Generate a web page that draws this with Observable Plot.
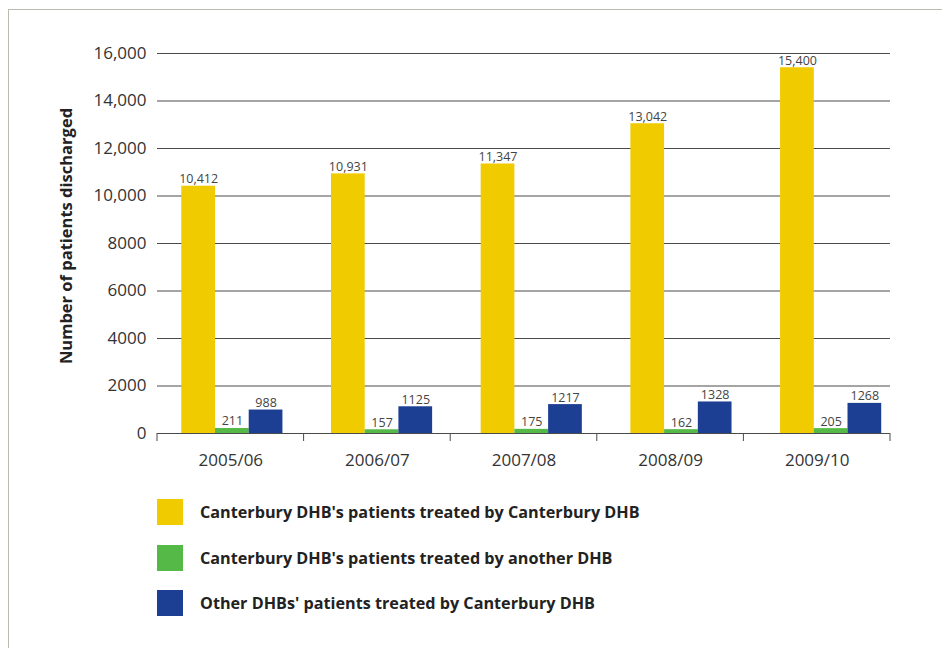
<!DOCTYPE html>
<html><head><meta charset="utf-8">
<script src="https://cdn.jsdelivr.net/npm/d3@7"></script>
<script src="https://cdn.jsdelivr.net/npm/@observablehq/plot@0.6"></script>
<style>
body{margin:0;background:#fff;font-family:"Open Sans",sans-serif;}
#wrap{position:relative;width:942px;height:648px;overflow:hidden;}
#frame{position:absolute;left:8px;top:9px;width:960px;height:660px;border-left:1.5px solid #bdbab1;border-top:1.5px solid #bdbab1;}
.layer{position:absolute;left:0;top:0;}
#ylabel{position:absolute;left:65px;top:236px;transform:translate(-50%,-50%) rotate(-90deg);font-weight:bold;font-size:16.5px;white-space:nowrap;color:#222}
#legend{position:absolute;left:157px;top:499px;}
.item{display:flex;align-items:center;height:26px;margin-bottom:19.5px}
.sw{width:26px;height:26px;margin-right:17px}
.lab{font-weight:bold;font-size:16.2px;color:#222}
</style></head>
<body>
<div id="wrap">
  <div id="frame"></div>
  <div id="axes" class="layer"></div>
  <div id="bars" class="layer"></div>
  <div id="ylabel">Number of patients discharged</div>
  <div id="legend"></div>
</div>
<script>
const years = ["2005/06","2006/07","2007/08","2008/09","2009/10"];
const seriesNames = [
  "Canterbury DHB's patients treated by Canterbury DHB",
  "Canterbury DHB's patients treated by another DHB",
  "Other DHBs' patients treated by Canterbury DHB"
];
const canterburyByCanterbury = [10412, 10931, 11347, 13042, 15400];
const canterburyByAnother = [211, 157, 175, 162, 205];
const othersByCanterbury = [988, 1125, 1217, 1328, 1268];
const seriesColors = ["#f0cb00", "#55b947", "#1c3f94"];
const yTicks = [0, 2000, 4000, 6000, 8000, 10000, 12000, 14000, 16000];
const yTickLabels = ["0", "2000", "4000", "6000", "8000", "10,000", "12,000", "14,000", "16,000"];

const fmt = v => v >= 10000 ? d3.format(",")(v) : String(v);
const seriesValues = [canterburyByCanterbury, canterburyByAnother, othersByCanterbury];
const data = [];
years.forEach((yr, i) => seriesNames.forEach((s, j) => data.push({year: yr, series: s, value: seriesValues[j][i]})));

const common = {
  width: 942, height: 480, marginLeft: 157, marginTop: 53, marginBottom: 47,
  style: {fontFamily: "'Open Sans', sans-serif", fontSize: "17px", color: "#333", background: "transparent"}
};

// Layer 1: gridlines, axes and category labels
const axes = Plot.plot({
  ...common,
  marginRight: 52,
  x: {domain: years, padding: 0, round: false, label: null, tickSize: 0, tickPadding: 20},
  y: {domain: [0, 16000], ticks: yTicks, tickFormat: d => yTickLabels[yTicks.indexOf(d)], tickSize: 0, tickPadding: 11, label: null},
  marks: [
    Plot.ruleY(yTicks, {stroke: "#4a4a4a", strokeWidth: 1}),
    Plot.tickY([0], {x: years, stroke: "none"})
  ]
});
document.getElementById("axes").appendChild(axes);
const xs = axes.scale("x"), ys = axes.scale("y");
const y0 = ys.apply(0);
const bounds = years.map(yr => xs.apply(yr)).concat([xs.apply(years[years.length - 1]) + xs.bandwidth]);
d3.select(axes).append("g").selectAll("line").data(bounds).join("line")
  .attr("x1", d => d).attr("x2", d => d)
  .attr("y1", y0).attr("y2", y0 + 8)
  .attr("stroke", "#4a4a4a");

// Layer 2: grouped bars and value labels
const bars = Plot.plot({
  ...common,
  marginRight: 36.5,
  fx: {domain: years, padding: 0, round: false, axis: null},
  x: {domain: seriesNames, axis: null, round: false, paddingInner: 0, paddingOuter: 0.72},
  y: {domain: [0, 16000], axis: null},
  color: {domain: seriesNames, range: seriesColors},
  marks: [
    Plot.barY(data, {fx: "year", x: "series", y: "value", fill: "series"}),
    Plot.text(data, {fx: "year", x: "series", y: "value", text: d => fmt(d.value), dy: -3, lineAnchor: "bottom", fontSize: 12.5, fill: "#444"})
  ]
});
document.getElementById("bars").appendChild(bars);

const legend = d3.select("#legend");
seriesNames.forEach((s, i) => {
  const it = legend.append("div").attr("class", "item");
  it.append("div").attr("class", "sw").style("background", seriesColors[i]);
  it.append("div").attr("class", "lab").text(s);
});
</script>
</body></html>
